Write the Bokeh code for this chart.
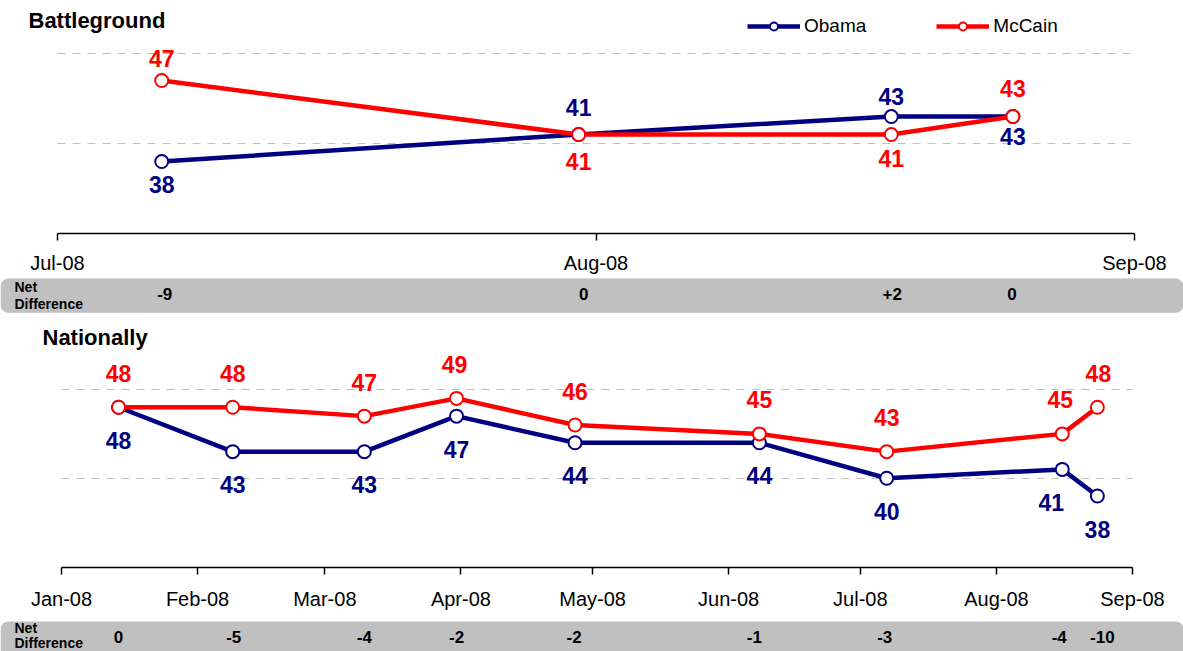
import numpy as np
from bokeh.plotting import figure
from bokeh.models import (Range1d, FixedTicker, DatetimeTickFormatter, Grid,
                          BoxAnnotation, Label, Legend, LegendItem, ColumnDataSource)
from bokeh.layouts import column
from bokeh.embed import file_html
from bokeh.resources import INLINE
from bokeh.core.properties import value

# ---------------- data ----------------
bg_dates = ["2008-07-07", "2008-07-31", "2008-08-18", "2008-08-25"]
bg_obama = [38, 41, 43, 43]
bg_mccain = [47, 41, 41, 43]
bg_ticks = ["2008-07-01", "2008-08-01", "2008-09-01"]

nat_dates = ["2008-01-14", "2008-02-09", "2008-03-10", "2008-03-31", "2008-04-27",
             "2008-06-08", "2008-07-07", "2008-08-16", "2008-08-24"]
nat_obama = [48, 43, 43, 47, 44, 44, 40, 41, 38]
nat_mccain = [48, 48, 47, 49, 46, 45, 43, 45, 48]
nat_ticks = ["2008-01-01", "2008-02-01", "2008-03-01", "2008-04-01", "2008-05-01",
             "2008-06-01", "2008-07-01", "2008-08-01", "2008-09-01"]

series_names = ["Obama", "McCain"]
panel_titles = ["Battleground", "Nationally"]
net_caption = ["Net", "Difference"]

# ---------------- label placement (screen px) ----------------
bg_ob_dy = [23, -27, -20, 20]
bg_mc_dy = [-22, 27, 24, -28]
bg_ob_dx = [0, 0, 0, 0]
bg_mc_dx = [0, 0, 0, 0]
bg_net_dx = [3, 5, 1, -1]

nat_ob_dy = [33] * 9
nat_mc_dy = [-34] * 9
nat_ob_dx = [0, 0, 0, 0, 0, 0, 0, -11, 0]
nat_mc_dx = [0, 0, 0, -2, 0, 0, 0, -2, 1]
nat_net_dx = [0, 1, 0, 0, -1, -5, -2, -3, 5]

OBAMA = "#000080"
MCCAIN = "#FF0000"
FONT = "Liberation Sans"
W = 1183


def ms(s):
    return float(np.datetime64(s, "ms").astype("int64"))


def fmt_net(d):
    return "0" if d == 0 else f"{d:+d}"


def build(dates, obama, mccain, ticks, ob_dy, mc_dy, ob_dx, mc_dx, net_dx, title, *,
          height, left_px, right_px, y_lo, y_hi, title_px, title_y,
          strip_top, strip_bottom, net_y, cap_y, standoff, legend_loc=None):
    xs = [ms(d) for d in dates]
    tk = [ms(t) for t in ticks]
    t0, t1 = tk[0], tk[-1]
    ppm = (right_px - left_px) / (t1 - t0)
    p = figure(width=W, height=height, x_axis_type="datetime", y_axis_location=None,
               x_range=Range1d(t0 - left_px / ppm, t1 + (W - right_px) / ppm),
               y_range=Range1d(y_lo, y_hi), toolbar_location=None,
               output_backend="svg", min_border=0, outline_line_color=None,
               background_fill_color="white", border_fill_color="white")
    p.xgrid.visible = False
    p.ygrid.visible = False

    # dashed horizontal grid limited to the axis span
    g = Grid(dimension=1, ticker=FixedTicker(ticks=[40, 50]),
             grid_line_color="#BFBFBF", grid_line_dash="8 7", grid_line_width=1,
             cross_bounds=(t0, t1))
    p.add_layout(g)

    ax = p.xaxis[0]
    ax.fixed_location = 30
    ax.bounds = (t0, t1)
    ax.ticker = FixedTicker(ticks=tk)
    f = "%b-%y"
    ax.formatter = DatetimeTickFormatter(microseconds=f, milliseconds=f, seconds=f,
                                         minsec=f, minutes=f, hourmin=f, hours=f,
                                         days=f, months=f, years=f)
    ax.axis_line_color = "black"
    ax.axis_line_width = 1.5
    ax.major_tick_out = 7
    ax.major_tick_in = 0
    ax.minor_tick_out = 0
    ax.minor_tick_in = 0
    ax.major_tick_line_color = "black"
    ax.major_tick_line_width = 1.5
    ax.major_label_text_font = FONT
    ax.major_label_text_font_size = "20px"
    ax.major_label_text_color = "black"
    ax.major_label_standoff = standoff

    # net difference strip
    p.add_layout(BoxAnnotation(top=strip_top, bottom=strip_bottom, fill_color="#C0C0C0",
                               fill_alpha=1.0, line_color=None, border_radius=8,
                               level="underlay"))
    nets = [fmt_net(o - m) for o, m in zip(obama, mccain)]
    nsrc = ColumnDataSource(dict(x=xs, y=[net_y] * len(xs), t=nets, dx=net_dx))
    p.text(x="x", y="y", text="t", x_offset="dx", source=nsrc, text_align="center",
           text_baseline="middle", text_font=value(FONT), text_font_style="bold",
           text_font_size="17px", text_color="black")
    for cap, cy in zip(net_caption, cap_y):
        p.add_layout(Label(x=14, y=cy, x_units="screen", text=cap, text_font=FONT,
                           text_font_style="bold", text_font_size="14px",
                           text_baseline="middle", text_align="left",
                           text_color="black"))

    # title
    p.add_layout(Label(x=title_px, y=title_y, x_units="screen", text=title,
                       text_font=FONT, text_font_style="bold", text_font_size="22px",
                       text_baseline="middle", text_align="left", text_color="black"))

    rends = {}
    for name, vals, col, dy, dx in ((series_names[0], obama, OBAMA, ob_dy, ob_dx),
                                    (series_names[1], mccain, MCCAIN, mc_dy, mc_dx)):
        src = ColumnDataSource(dict(x=xs, y=vals, t=[str(v) for v in vals], dy=dy, dx=dx))
        lr = p.line("x", "y", source=src, line_color=col, line_width=4.5, line_join="round")
        sr = p.scatter("x", "y", source=src, marker="circle", size=13, fill_color="white",
                       line_color=col, line_width=2)
        p.text(x="x", y="y", text="t", x_offset="dx", y_offset="dy", source=src,
               text_align="center", text_baseline="middle", text_font=value(FONT),
               text_font_style="bold", text_font_size="23px", text_color=col)
        rends[name] = [lr, sr]

    if legend_loc is not None:
        leg = Legend(items=[LegendItem(label=n, renderers=rends[n]) for n in series_names],
                     orientation="horizontal", location=legend_loc, glyph_width=53,
                     glyph_height=20, label_standoff=4, spacing=70, padding=0, margin=0,
                     border_line_color=None, background_fill_alpha=0,
                     label_text_font=FONT, label_text_font_size="19px",
                     label_text_color="black")
        p.add_layout(leg)
    return p


p1 = build(bg_dates, bg_obama, bg_mccain, bg_ticks, bg_ob_dy, bg_mc_dy, bg_ob_dx,
           bg_mc_dx, bg_net_dx, panel_titles[0],
           height=318, left_px=57, right_px=1134, y_lo=20.56, y_hi=55.89,
           title_px=28, title_y=53.67, strip_top=25.0, strip_bottom=21.2,
           net_y=23.3, cap_y=[24.1, 22.2], standoff=11, legend_loc=(747, 281))

p2 = build(nat_dates, nat_obama, nat_mccain, nat_ticks, nat_ob_dy, nat_mc_dy, nat_ob_dx,
           nat_mc_dx, nat_net_dx, panel_titles[1],
           height=333, left_px=61, right_px=1132, y_lo=20.48, y_hi=58.0,
           title_px=42, title_y=55.86, strip_top=23.86, strip_bottom=18.0,
           net_y=22.1, cap_y=[23.18, 21.49], standoff=14)

layout = column(p1, p2, spacing=0)
open("out.html", "w").write(file_html(layout, INLINE))
